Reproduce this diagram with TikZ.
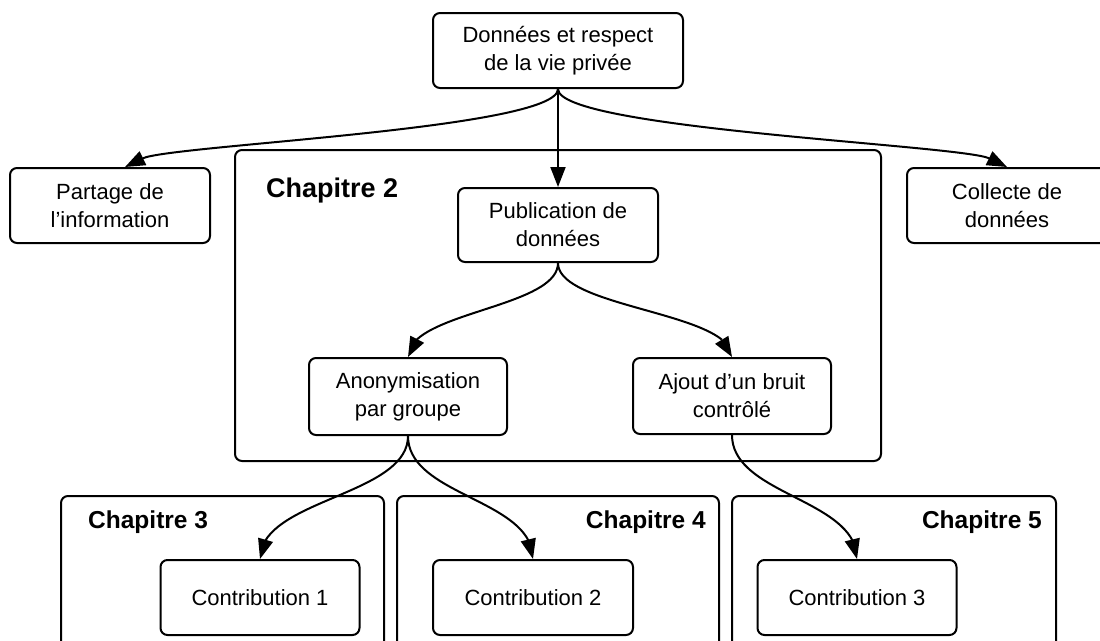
\documentclass[tikz,border=0pt]{standalone}
\usepackage{fontspec}
\setmainfont{Liberation Sans}
\usetikzlibrary{arrows.meta, bending}

\begin{document}
\begin{tikzpicture}[x=1pt, y=-1pt,
    bloc/.style={draw, line width=2pt, rounded corners=7pt, align=center,
      font=\fontsize{22}{28}\selectfont, inner sep=0pt},
    chap/.style={draw, line width=2pt, rounded corners=7pt, inner sep=0pt},
    titre/.style={font=\fontsize{24.5}{30}\selectfont\bfseries, inner sep=0pt},
    fleche/.style={line width=2pt, -{Triangle[length=20pt, width=15pt, flex]}},
    fleche droite/.style={line width=2pt, -{Triangle[length=20pt, width=15pt, quick]}}]
    \clip (0,0) rectangle (1100,640);

    % chapitres
    \node[chap, minimum width=646pt, minimum height=311pt] (ch2) at (558,305.5) {};
    \node[chap, minimum width=323pt, minimum height=220pt] (ch3) at (222.5,606) {};
    \node[chap, minimum width=322pt, minimum height=220pt] (ch4) at (558,606) {};
    \node[chap, minimum width=324pt, minimum height=220pt] (ch5) at (894,606) {};
    \node[titre, font=\fontsize{27}{32}\selectfont\bfseries, anchor=base west] (t2) at (266,197) {Chapitre 2};
    \node[titre, anchor=base west] (t3) at (88,528) {Chapitre 3};
    \node[titre, anchor=base east] (t4) at (706,528) {Chapitre 4};
    \node[titre, anchor=base east] (t5) at (1042,528) {Chapitre 5};

    % blocs
    \node[bloc, minimum width=250pt, minimum height=75pt] (dv) at (558,50.5)
      {Données et respect\\de la vie privée};
    \node[bloc, minimum width=200pt, minimum height=75pt] (pi) at (110,205.5)
      {Partage de\\l’information};
    \node[bloc, minimum width=200pt, minimum height=75pt] (cd) at (1007,205.5)
      {Collecte de\\données};
    \node[bloc, minimum width=200pt, minimum height=74pt] (pub) at (558,225)
      {Publication de\\données};
    \node[bloc, minimum width=198pt, minimum height=77pt] (ano) at (408,396.5)
      {Anonymisation\\par groupe};
    \node[bloc, minimum width=198pt, minimum height=76pt] (ajb) at (732,396)
      {Ajout d’un bruit\\contrôlé};
    \node[bloc, minimum width=199pt, minimum height=75pt] (c1) at (260,597.5)
      {Contribution 1};
    \node[bloc, minimum width=200pt, minimum height=75pt] (c2) at (533,597.5)
      {Contribution 2};
    \node[bloc, minimum width=199pt, minimum height=75pt] (c3) at (857,597.5)
      {Contribution 3};

    % fleches
    \draw[fleche] (dv.south) -- (pub.north);
    \draw[fleche droite] (dv.south) .. controls +(0,40) and +(45,-22) .. ([xshift=15pt]pi.north);
    \draw[fleche droite] (dv.south) .. controls +(0,40) and +(-45,-22) .. (cd.north);
    \draw[fleche] (pub.south) .. controls +(0,45) and +(0,-45) .. (ano.north);
    \draw[fleche] (pub.south) .. controls +(0,45) and +(0,-45) .. (ajb.north);
    \draw[fleche] (ano.south) .. controls +(0,60) and +(0,-60) .. (c1.north);
    \draw[fleche] (ano.south) .. controls +(0,60) and +(0,-60) .. (c2.north);
    \draw[fleche] (ajb.south) .. controls +(0,60) and +(0,-60) .. (c3.north);
\end{tikzpicture}
\end{document}
